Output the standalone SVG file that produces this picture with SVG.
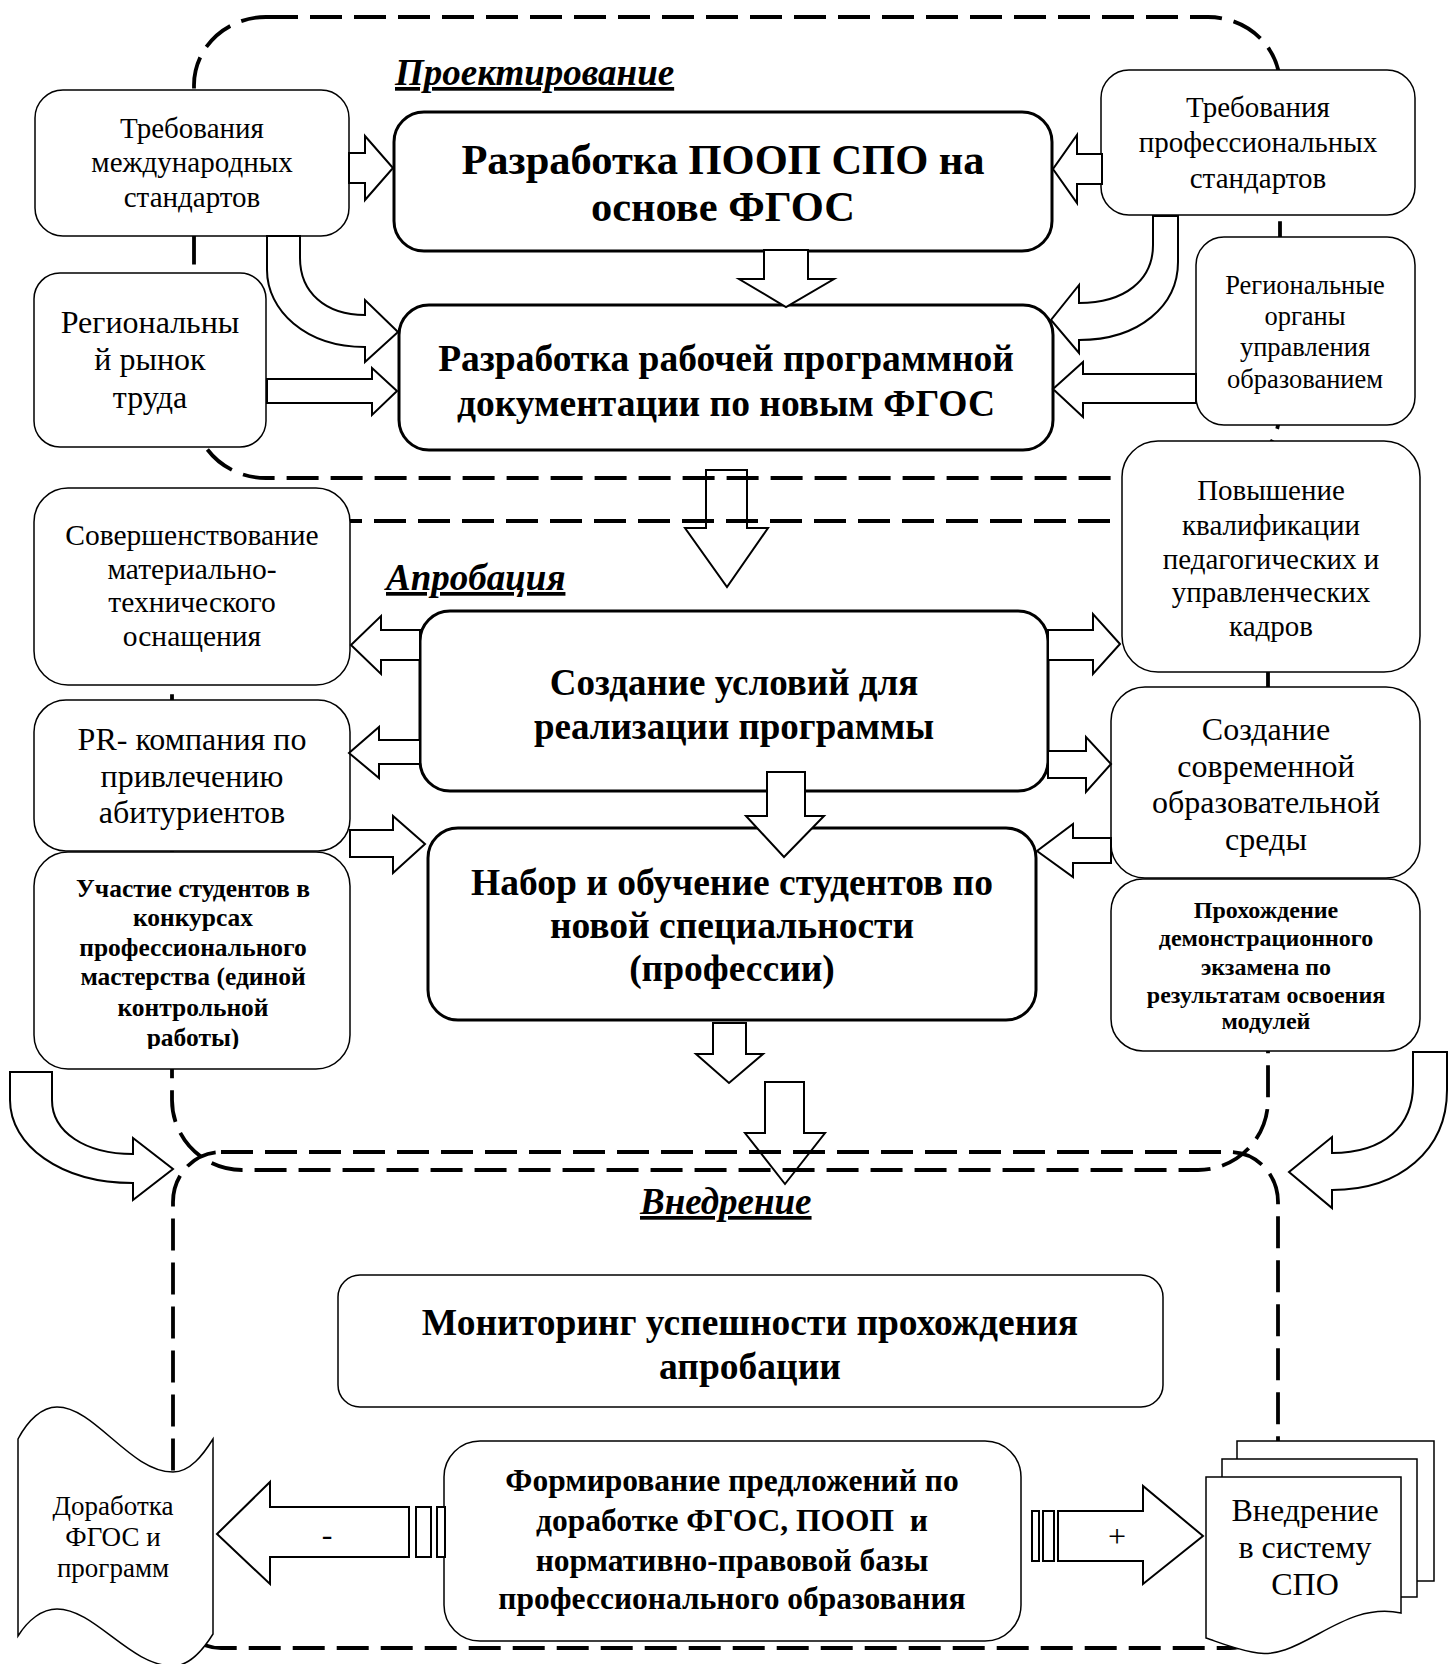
<svg xmlns="http://www.w3.org/2000/svg" width="1450" height="1664" viewBox="0 0 1450 1664">
<style>
.box{fill:#fff;stroke:#000;stroke-width:1.5}
.bbox{fill:#fff;stroke:#000;stroke-width:3}
.arr{fill:#fff;stroke:#000;stroke-width:2;stroke-linejoin:miter}
.arrn{fill:none;stroke:#000;stroke-width:2;stroke-linejoin:miter}
.dash{fill:none;stroke:#000;stroke-width:3.8;stroke-dasharray:32 12}
text{font-family:"Liberation Serif","Times New Roman",serif;fill:#000;white-space:pre}
.t{text-anchor:middle}
.b{font-weight:bold}
.title{font-weight:bold;font-style:italic;text-decoration:underline;font-size:37px}
</style>
<defs>
<clipPath id="clipU"><rect x="34" y="852" width="316" height="197"/></clipPath>
</defs>
<rect width="1450" height="1664" fill="#fff"/>

<g id="phase-frames">
<rect id="frame-proj" class="dash" x="194" y="17" width="1086" height="461" rx="72" ry="68"/>
<rect id="frame-aprob" class="dash" x="172" y="521" width="1096" height="649" rx="70" ry="70"/>
<rect id="frame-vnedr" class="dash" x="173" y="1152" width="1105" height="496" rx="48" ry="50"/>
</g>

<g id="titles">
<text class="title" x="395" y="85">Проектирование</text>
<text class="title" x="386" y="590">Апробация</text>
<text class="title" x="640" y="1214">Внедрение</text>
</g>

<g id="n-intl" class="node">
<rect class="box" x="35" y="90" width="314" height="146" rx="28"/>
<text class="t" font-size="29" x="192" y="138">Требования</text>
<text class="t" font-size="29" x="192" y="172">международных</text>
<text class="t" font-size="29" x="192" y="207">стандартов</text>
</g>

<g id="n-poop" class="node">
<rect class="bbox" x="394" y="112" width="658" height="139" rx="30"/>
<text class="t b" font-size="42.5" x="723" y="174">Разработка ПООП СПО на</text>
<text class="t b" font-size="42.5" x="723" y="221">основе ФГОС</text>
</g>

<g id="n-prof" class="node">
<rect class="box" x="1101" y="70" width="314" height="145" rx="28"/>
<text class="t" font-size="29" x="1258" y="117">Требования</text>
<text class="t" font-size="29" x="1258" y="152">профессиональных</text>
<text class="t" font-size="29" x="1258" y="188">стандартов</text>
</g>

<g id="n-market" class="node">
<rect class="box" x="34" y="273" width="232" height="174" rx="26"/>
<text class="t" font-size="32" x="150" y="333">Региональны</text>
<text class="t" font-size="32" x="150" y="370">й рынок</text>
<text class="t" font-size="32" x="150" y="408">труда</text>
</g>

<g id="n-rpd" class="node">
<rect class="bbox" x="399" y="305" width="654" height="145" rx="30"/>
<text class="t b" font-size="37.5" x="726" y="371">Разработка рабочей программной</text>
<text class="t b" font-size="37.5" x="726" y="416">документации по новым ФГОС</text>
</g>

<g id="n-regorg" class="node">
<rect class="box" x="1196" y="237" width="219" height="188" rx="28"/>
<text class="t" font-size="26.5" x="1305" y="294">Региональные</text>
<text class="t" font-size="26.5" x="1305" y="325">органы</text>
<text class="t" font-size="26.5" x="1305" y="356">управления</text>
<text class="t" font-size="26.5" x="1305" y="388">образованием</text>
</g>

<g id="n-mto" class="node">
<rect class="box" x="34" y="488" width="316" height="197" rx="34"/>
<text class="t" font-size="29.5" x="192" y="545">Совершенствование</text>
<text class="t" font-size="29.5" x="192" y="579">материально-</text>
<text class="t" font-size="29.5" x="192" y="612">технического</text>
<text class="t" font-size="29.5" x="192" y="646">оснащения</text>
</g>

<g id="n-cond" class="node">
<rect class="bbox" x="420" y="611" width="628" height="180" rx="30"/>
<text class="t b" font-size="37" x="734" y="695">Создание условий для</text>
<text class="t b" font-size="37" x="734" y="739">реализации программы</text>
</g>

<g id="n-qual" class="node">
<rect class="box" x="1122" y="441" width="298" height="231" rx="36"/>
<text class="t" font-size="29" x="1271" y="500">Повышение</text>
<text class="t" font-size="29" x="1271" y="535">квалификации</text>
<text class="t" font-size="29" x="1271" y="569">педагогических и</text>
<text class="t" font-size="29" x="1271" y="602">управленческих</text>
<text class="t" font-size="29" x="1271" y="636">кадров</text>
</g>

<g id="n-pr" class="node">
<rect class="box" x="34" y="700" width="316" height="151" rx="32"/>
<text class="t" font-size="32" x="192" y="750">PR- компания по</text>
<text class="t" font-size="32" x="192" y="787">привлечению</text>
<text class="t" font-size="32" x="192" y="823">абитуриентов</text>
</g>

<g id="n-env" class="node">
<rect class="box" x="1111" y="687" width="309" height="191" rx="34"/>
<text class="t" font-size="32" x="1266" y="740">Создание</text>
<text class="t" font-size="32" x="1266" y="777">современной</text>
<text class="t" font-size="32" x="1266" y="813">образовательной</text>
<text class="t" font-size="32" x="1266" y="850">среды</text>
</g>

<g id="n-contest" class="node">
<rect class="box" x="34" y="852" width="316" height="217" rx="34"/>
<g clip-path="url(#clipU)">
<text class="t b" font-size="25.5" x="193" y="897">Участие студентов в</text>
<text class="t b" font-size="25.5" x="193" y="926">конкурсах</text>
<text class="t b" font-size="25.5" x="193" y="956">профессионального</text>
<text class="t b" font-size="25.5" x="193" y="985">мастерства (единой</text>
<text class="t b" font-size="25.5" x="193" y="1016">контрольной</text>
<text class="t b" font-size="25.5" x="193" y="1046">работы)</text>
</g>
</g>

<g id="n-enroll" class="node">
<rect class="bbox" x="428" y="828" width="608" height="192" rx="30"/>
<text class="t b" font-size="37.5" x="732" y="895">Набор и обучение студентов по</text>
<text class="t b" font-size="37.5" x="732" y="938">новой специальности</text>
<text class="t b" font-size="37.5" x="732" y="981">(профессии)</text>
</g>

<g id="n-demo" class="node">
<rect class="box" x="1111" y="879" width="309" height="172" rx="32"/>
<text class="t b" font-size="24" x="1266" y="918">Прохождение</text>
<text class="t b" font-size="24" x="1266" y="946">демонстрационного</text>
<text class="t b" font-size="24" x="1266" y="975">экзамена по</text>
<text class="t b" font-size="24" x="1266" y="1003">результатам освоения</text>
<text class="t b" font-size="24" x="1266" y="1029">модулей</text>
</g>

<g id="n-monitor" class="node">
<rect class="box" x="338" y="1275" width="825" height="132" rx="22"/>
<text class="t b" font-size="37.5" x="750" y="1335">Мониторинг успешности прохождения</text>
<text class="t b" font-size="37.5" x="750" y="1379">апробации</text>
</g>

<g id="n-proposals" class="node">
<rect class="box" x="444" y="1441" width="577" height="200" rx="36"/>
<text class="t b" font-size="31.5" x="732" y="1491">Формирование предложений по</text>
<text class="t b" font-size="31.5" x="732" y="1531">доработке ФГОС, ПООП  и</text>
<text class="t b" font-size="31.5" x="732" y="1571">нормативно-правовой базы</text>
<text class="t b" font-size="31.5" x="732" y="1609">профессионального образования</text>
</g>

<g id="n-revise" class="node">
<path class="box" d="M18,1439 C28,1420 42,1407 57,1407 C95,1407 130,1472 173,1472 C190,1472 203,1455 213,1439 L213,1634 C203,1650 190,1666 173,1666 C130,1666 95,1609 57,1609 C42,1609 28,1620 18,1636 Z"/>
<text class="t" font-size="27" x="113" y="1515">Доработка</text>
<text class="t" font-size="27" x="113" y="1546">ФГОС и</text>
<text class="t" font-size="27" x="113" y="1577">программ</text>
</g>

<g id="n-implement" class="node">
<path class="box" d="M1237,1441 H1434 V1581 H1237 Z"/>
<path class="box" d="M1222,1459 H1417 V1597 H1222 Z"/>
<path class="box" d="M1206,1477 H1401 V1613 C1340,1600 1300,1664 1252,1652 C1232,1648 1218,1642 1206,1638 Z"/>
<text class="t" font-size="32" x="1305" y="1521">Внедрение</text>
<text class="t" font-size="32" x="1305" y="1558">в систему</text>
<text class="t" font-size="32" x="1305" y="1595">СПО</text>
</g>

<g id="connectors">
<polygon class="arrn" points="706,470 747,470 747,528 768,528 727,587 685,528 706,528"/>
<polygon class="arrn" points="765,1082 804,1082 804,1133 825,1133 785,1184 745,1133 765,1133"/>
<polygon class="arr" points="349,153 365,153 365,136 393,168 365,200 365,183 349,183"/>
<polygon class="arr" points="1102,154 1077,154 1077,135 1053,169 1077,203 1077,184 1102,184"/>
<polygon class="arr" points="764,250 808,250 808,279 834,279 786,307 739,279 764,279"/>
<path class="arr" d="M267,236 L300,236 L300,258 C300,292 325,315 365,315 L365,300 L398,332 L365,362 L365,347 C305,347 267,310 267,270 Z"/>
<polygon class="arr" points="267,379 372,379 372,368 397,391 372,415 372,403 267,403"/>
<path class="arr" d="M1153,216 L1178,216 L1178,262 C1178,305 1140,340 1079,340 L1079,353 L1051,320 L1079,285 L1079,303 C1125,303 1153,280 1153,245 Z"/>
<polygon class="arr" points="1196,374 1083,374 1083,362 1053,389 1083,417 1083,403 1196,403"/>
<polygon class="arr" points="420,630 381,630 381,616 351,645 381,674 381,660 420,660"/>
<polygon class="arr" points="420,740 379,740 379,727 349,753 379,778 379,764 420,764"/>
<polygon class="arr" points="350,830 393,830 393,816 425,844 393,873 393,857 350,857"/>
<polygon class="arr" points="767,772 805,772 805,816 824,816 784,857 746,816 767,816"/>
<polygon class="arr" points="1048,630 1093,630 1093,614 1120,644 1093,674 1093,660 1048,660"/>
<polygon class="arr" points="1048,751 1086,751 1086,737 1111,764 1086,792 1086,778 1048,778"/>
<polygon class="arr" points="1111,838 1073,838 1073,824 1037,851 1073,877 1073,863 1111,863"/>
<polygon class="arr" points="713,1023 746,1023 746,1054 763,1054 729,1083 696,1054 713,1054"/>
<path class="arr" d="M10,1072 L52,1072 L52,1100 C52,1132 85,1154 133,1154 L133,1138 L173,1169 L133,1200 L133,1183 C60,1183 10,1145 10,1100 Z"/>
<path class="arr" d="M1413,1052 L1447,1052 L1447,1090 C1447,1150 1400,1190 1332,1190 L1332,1208 L1289,1172 L1332,1137 L1332,1153 C1385,1153 1413,1125 1413,1085 Z"/>
<polygon class="arr" points="409,1507 270,1507 270,1482 217,1534 270,1584 270,1557 409,1557"/>
<rect class="arr" x="416" y="1507" width="15" height="50"/>
<rect class="arr" x="437" y="1507" width="8" height="50"/>
<polygon class="arr" points="1058,1511 1143,1511 1143,1486 1203,1536 1143,1584 1143,1561 1058,1561"/>
<rect class="arr" x="1043" y="1511" width="11" height="50"/>
<rect class="arr" x="1032" y="1511" width="7" height="50"/>
<text class="t" font-size="32" x="327" y="1545">-</text>
<text class="t" font-size="32" x="1117" y="1547">+</text>
</g>
</svg>
